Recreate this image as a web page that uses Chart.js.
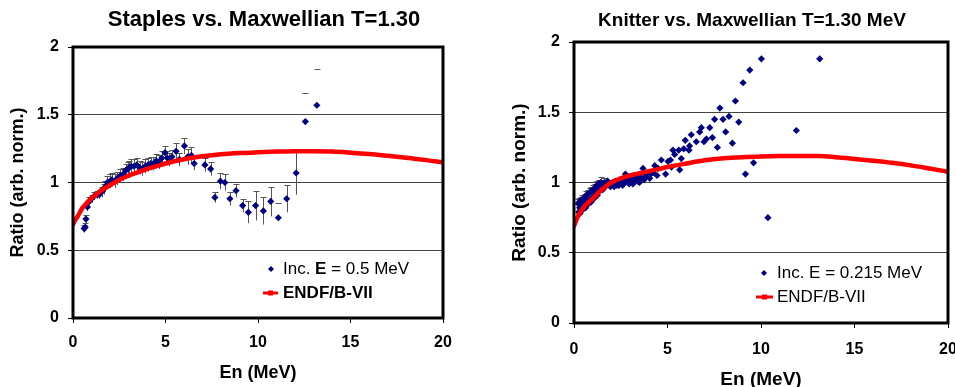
<!DOCTYPE html>
<html lang="en">
<head>
<meta charset="UTF-8">
<title>Staples / Knitter vs. Maxwellian T=1.30</title>
<script src="https://cdn.jsdelivr.net/npm/chart.js"></script>
<style>
  html, body {
    margin: 0;
    padding: 0;
    width: 955px;
    height: 387px;
    overflow: hidden;
    background: #fff;
  }
  canvas { position: absolute; top: 0; }
  #staplesChart { left: 0; }
  #knitterChart { left: 480px; }
</style>
</head>
<body>
<canvas id="staplesChart" width="480" height="387"></canvas>
<canvas id="knitterChart" width="500" height="395"></canvas>

<script>
const xTicks = [0, 5, 10, 15, 20];
const yTicks = [0, 0.5, 1, 1.5, 2];

// Staples, Inc. E = 0.5 MeV (ratio to Maxwellian, with error)
const staplesX = [
  0.60, 0.66, 0.70, 0.78, 0.88, 1.00, 1.15, 1.30, 1.42, 1.55,
  1.65, 1.75, 1.85, 2.00, 2.10, 2.25, 2.40, 2.55, 2.70, 2.85,
  2.95, 3.05, 3.15, 3.30, 3.45, 3.60, 3.75, 3.90, 4.05, 4.20,
  4.35, 4.50, 4.65, 4.80, 4.97, 5.10, 5.20, 5.35, 5.57, 5.75,
  6.02, 6.20, 6.40, 6.55, 7.13, 7.44, 7.67, 7.97, 8.21, 8.48,
  8.81, 9.17, 9.48, 9.87, 10.29, 10.69, 11.10, 11.55, 12.06, 12.56, 13.18
];
const staplesY = [
  0.66, 0.67, 0.73, 0.82, 0.86, 0.88, 0.90, 0.91, 0.91, 0.93,
  0.95, 0.97, 1.00, 1.01, 1.02, 1.01, 1.03, 1.05, 1.06, 1.09,
  1.10, 1.11, 1.12, 1.12, 1.13, 1.11, 1.10, 1.12, 1.13, 1.14,
  1.14, 1.16, 1.15, 1.18, 1.22, 1.18, 1.17, 1.19, 1.23, 1.17,
  1.27, 1.19, 1.20, 1.14, 1.13, 1.10, 0.89, 1.01, 1.00, 0.88,
  0.94, 0.83, 0.78, 0.83, 0.79, 0.86, 0.74, 0.88, 1.07, 1.45, 1.57
];
const staplesErr = [
  0.03, 0.03, 0.03, 0.03, 0.03, 0.03, 0.03, 0.03, 0.03, 0.04,
  0.04, 0.04, 0.05, 0.05, 0.05, 0.05, 0.05, 0.05, 0.05, 0.05,
  0.05, 0.05, 0.05, 0.05, 0.05, 0.05, 0.05, 0.05, 0.05, 0.05,
  0.05, 0.05, 0.05, 0.05, 0.05, 0.05, 0.05, 0.05, 0.06, 0.05,
  0.06, 0.06, 0.06, 0.05, 0.05, 0.05, 0.04, 0.06, 0.06, 0.05,
  0.05, 0.05, 0.08, 0.11, 0.10, 0.11, 0.11, 0.10, 0.16, 0.21, 0.27
];
// the last few bars show only their top cap in the original
const staplesCapOnly = [56, 59, 60];

// Knitter, Inc. E = 0.215 MeV
const knitterX = [
  0.22, 0.25, 0.28, 0.30, 0.35, 0.36, 0.42, 0.42, 0.48, 0.50,
  0.55, 0.58, 0.62, 0.66, 0.70, 0.75, 0.78, 0.84, 0.86, 0.93,
  0.95, 1.02, 1.05, 1.12, 1.15, 1.22, 1.25, 1.32, 1.35, 1.42,
  1.45, 1.52, 1.55, 1.62, 1.65, 1.75, 1.80, 1.85, 1.90, 2.00,
  2.05, 2.15, 2.20, 2.30, 2.35, 2.45, 2.55, 2.60, 2.70, 2.75,
  2.85, 2.95, 3.00, 3.10, 3.20, 3.25, 3.35, 3.45, 3.50, 3.55,
  3.60, 3.69, 3.87, 4.05, 4.23, 4.32, 4.44, 4.50, 4.67, 4.90,
  5.03, 5.16, 5.21, 5.29, 5.38, 5.60, 5.65, 5.74, 5.87, 5.95,
  6.15, 6.18, 6.27, 6.54, 6.72, 6.81, 6.95, 7.08, 7.26, 7.40,
  7.52, 7.67, 7.80, 7.97, 8.11, 8.29, 8.47, 8.63, 8.81, 9.04,
  9.17, 9.40, 9.60, 10.02, 10.37, 11.89, 13.14,
  0.32, 0.46, 0.68, 0.90, 1.10, 1.30, 2.10, 2.50, 2.90, 3.30, 3.80, 4.10,
  2.25, 2.65, 3.15, 3.40, 3.75, 1.95, 2.40, 2.80
];
const knitterY = [
  0.85, 0.79, 0.86, 0.82, 0.87, 0.84, 0.88, 0.80, 0.83, 0.88,
  0.85, 0.89, 0.82, 0.91, 0.86, 0.92, 0.85, 0.93, 0.88, 0.94,
  0.87, 0.95, 0.90, 0.96, 0.92, 0.98, 0.91, 0.99, 0.94, 1.00,
  0.96, 0.99, 0.95, 1.00, 0.97, 0.98, 1.01, 0.99, 0.99, 0.98,
  1.00, 0.97, 1.01, 0.98, 1.00, 0.99, 1.02, 0.98, 1.00, 1.06,
  1.01, 0.99, 1.03, 1.02, 1.05, 1.01, 1.04, 1.03, 1.00, 1.06,
  1.03, 1.10, 1.06, 1.03, 1.07, 1.12, 1.05, 1.10, 1.16, 1.06,
  1.15, 1.16, 1.11, 1.23, 1.20, 1.23, 1.09, 1.17, 1.24, 1.30,
  1.23, 1.26, 1.34, 1.29, 1.36, 1.39, 1.29, 1.31, 1.39, 1.32,
  1.45, 1.25, 1.53, 1.45, 1.36, 1.47, 1.28, 1.58, 1.43, 1.71,
  1.06, 1.80, 1.14, 1.88, 0.75, 1.37, 1.88,
  0.78, 0.81, 0.84, 0.86, 0.89, 0.93, 0.99, 1.00, 1.02, 1.02, 1.04, 1.06,
  0.99, 1.01, 0.99, 1.01, 1.02, 0.97, 0.98, 1.03
];
// only the low-energy points carry visible error bars
const knitterErr = [
  0.03, 0, 0.03, 0, 0.03, 0, 0.03, 0, 0, 0.03,
  0, 0.03, 0, 0.03, 0, 0.03, 0, 0.03, 0, 0.03,
  0, 0.03, 0, 0.03, 0, 0.03, 0, 0.03, 0, 0.04,
  0, 0.03, 0, 0.03
];

// ENDF/B-VII curves
const endfX = [0, 0.1, 0.25, 0.5, 0.75, 1, 1.25, 1.5, 2, 2.5, 3, 3.5, 4, 4.5, 5,
               6, 7, 8, 9, 10, 11, 12, 13, 14, 15, 16, 17, 18, 19, 20];
const endfStaplesY = [0.69, 0.72, 0.75, 0.81, 0.85, 0.885, 0.91, 0.94, 0.98, 1.02, 1.05, 1.075, 1.10, 1.12, 1.14,
                      1.172, 1.193, 1.208, 1.217, 1.223, 1.228, 1.231, 1.231, 1.228, 1.22, 1.21, 1.197, 1.183, 1.167, 1.148];
const endfKnitterY = [0.69, 0.725, 0.77, 0.82, 0.855, 0.885, 0.92, 0.95, 1.0, 1.03, 1.05, 1.065, 1.08, 1.095, 1.11,
                      1.135, 1.158, 1.172, 1.18, 1.185, 1.188, 1.189, 1.188, 1.18, 1.168, 1.155, 1.14, 1.122, 1.10, 1.077];

const FONT = '"Liberation Sans", Arial, sans-serif';
const pairs = (xs, ys) => xs.map((x, i) => ({ x, y: ys[i] }));

// vertical error bars with a cap on top, drawn under the markers
const errorBars = {
  id: 'errorBars',
  beforeDatasetsDraw(chart) {
    const { ctx, chartArea: a, scales: { x, y } } = chart;
    ctx.save();
    ctx.beginPath();
    ctx.rect(a.left, a.top, a.right - a.left, a.bottom - a.top);
    ctx.clip();
    ctx.strokeStyle = '#555';
    ctx.lineWidth = 1;
    chart.data.datasets.forEach(ds => {
      if (!ds.errors) return;
      const capOnly = ds.capOnly || [];
      ds.data.forEach((p, i) => {
        const e = ds.errors[i];
        if (!e) return;
        const px = Math.round(x.getPixelForValue(p.x)) + 0.5;
        const top = Math.round(y.getPixelForValue(p.y + e)) + 0.5;
        const bot = y.getPixelForValue(p.y - e);
        ctx.beginPath();
        if (!capOnly.includes(i)) {
          ctx.moveTo(px, top);
          ctx.lineTo(px, bot);
        }
        ctx.moveTo(px - 3, top);
        ctx.lineTo(px + 3, top);
        ctx.stroke();
      });
    });
    ctx.restore();
  }
};

// heavy black box round the plot area
const frame = {
  id: 'frame',
  afterDatasetsDraw(chart) {
    const { ctx, chartArea: a } = chart;
    ctx.save();
    ctx.lineWidth = 3;
    ctx.strokeStyle = '#000';
    ctx.strokeRect(a.left, a.top, a.right - a.left, a.bottom - a.top);
    ctx.restore();
  }
};

// chart heading and the legend that sits inside the plot
const captions = {
  id: 'captions',
  afterDraw(chart, args, o) {
    const ctx = chart.ctx;
    ctx.save();
    ctx.fillStyle = '#000';
    ctx.textBaseline = 'middle';
    ctx.textAlign = 'center';
    ctx.font = `bold ${o.titleSize}px ${FONT}`;
    ctx.fillText(o.title, o.titleX, o.titleY);

    ctx.textAlign = 'left';
    o.rows.forEach(row => {
      const ds = chart.data.datasets[row.dataset];
      if (ds.type === 'line') {
        ctx.strokeStyle = ds.borderColor;
        ctx.lineWidth = 3;
        ctx.beginPath();
        ctx.moveTo(o.lineFrom, row.y);
        ctx.lineTo(o.lineTo, row.y);
        ctx.stroke();
        ctx.fillStyle = ds.borderColor;
        const mid = (o.lineFrom + o.lineTo) / 2;
        ctx.fillRect(mid - 2.5, row.y - 2.5, 5, 5);
      } else {
        ctx.fillStyle = ds.pointBackgroundColor;
        ctx.beginPath();
        ctx.moveTo(o.markerX, row.y - 3);
        ctx.lineTo(o.markerX + 3, row.y);
        ctx.lineTo(o.markerX, row.y + 3);
        ctx.lineTo(o.markerX - 3, row.y);
        ctx.closePath();
        ctx.fill();
      }
      ctx.fillStyle = '#000';
      let tx = o.textX;
      row.parts.forEach(([text, bold]) => {
        ctx.font = `${bold ? 'bold ' : ''}${o.fontSize}px ${FONT}`;
        ctx.fillText(text, tx, row.y);
        tx += ctx.measureText(text).width;
      });
    });
    ctx.restore();
  }
};

function buildChart(id, c) {
  return new Chart(document.getElementById(id), {
    type: 'scatter',
    data: {
      datasets: [
        {
          type: 'scatter',
          label: c.dataLabel,
          data: c.points,
          errors: c.errors,
          capOnly: c.capOnly,
          pointStyle: 'rectRot',
          pointRadius: 3.6,
          pointBackgroundColor: '#000080',
          pointBorderWidth: 0,
          order: 2
        },
        {
          type: 'line',
          label: 'ENDF/B-VII',
          data: c.curve,
          borderColor: '#ff0000',
          borderWidth: 4.5,
          pointStyle: 'rect',
          pointRadius: 2.5,
          pointBackgroundColor: '#ff0000',
          pointBorderWidth: 0,
          cubicInterpolationMode: 'monotone',
          order: 1
        }
      ]
    },
    options: {
      responsive: false,
      animation: false,
      devicePixelRatio: 1,
      events: [],
      layout: { padding: c.padding },
      scales: {
        x: {
          type: 'linear',
          min: 0,
          max: 20,
          afterBuildTicks: s => { s.ticks = xTicks.map(v => ({ value: v })); },
          afterFit: s => { s.height = c.xHeight; },
          grid: { drawOnChartArea: false, tickLength: 5, tickColor: '#000' },
          border: { display: false },
          ticks: {
            color: '#000',
            padding: c.xTickPad,
            maxRotation: 0,
            callback: v => String(v),
            font: { family: FONT, size: 16, weight: 'bold' }
          },
          title: {
            display: true,
            text: 'En (MeV)',
            color: '#000',
            padding: { top: 0, bottom: c.xTitlePad },
            font: { family: FONT, size: c.axisTitleSize, weight: 'bold' }
          }
        },
        y: {
          type: 'linear',
          min: 0,
          max: 2,
          afterBuildTicks: s => { s.ticks = yTicks.map(v => ({ value: v })); },
          afterFit: s => { s.width = c.yWidth; },
          grid: { color: '#444', lineWidth: 1, tickLength: 5, tickColor: '#000' },
          border: { display: false },
          ticks: {
            color: '#000',
            padding: 9,
            callback: v => String(v),
            font: { family: FONT, size: 16, weight: 'bold' }
          },
          title: {
            display: true,
            text: 'Ratio (arb. norm.)',
            color: '#000',
            padding: { top: c.yTitlePad, bottom: 0 },
            font: { family: FONT, size: c.axisTitleSize, weight: 'bold' }
          }
        }
      },
      plugins: {
        legend: { display: false },
        tooltip: { enabled: false },
        captions: c.captions
      }
    },
    plugins: [errorBars, frame, captions]
  });
}

buildChart('staplesChart', {
  dataLabel: 'Inc. E = 0.5 MeV',
  points: pairs(staplesX, staplesY),
  errors: staplesErr,
  capOnly: staplesCapOnly,
  curve: pairs(endfX, endfStaplesY),
  padding: { left: 0, top: 47, right: 37, bottom: 0 },
  xHeight: 69,
  yWidth: 73,
  xTickPad: 10,
  xTitlePad: 3,
  yTitlePad: 7,
  axisTitleSize: 18,
  captions: {
    title: 'Staples vs. Maxwellian T=1.30',
    titleX: 264, titleY: 20, titleSize: 22,
    markerX: 271, textX: 283, lineFrom: 263, lineTo: 278, fontSize: 17,
    rows: [
      { dataset: 0, y: 269, parts: [['Inc. ', false], ['E', true], [' = 0.5 MeV', false]] },
      { dataset: 1, y: 293, parts: [['ENDF/B-VII', true]] }
    ]
  }
});

buildChart('knitterChart', {
  dataLabel: 'Inc. E = 0.215 MeV',
  points: pairs(knitterX, knitterY),
  errors: knitterErr,
  curve: pairs(endfX, endfKnitterY),
  padding: { left: 0, top: 42, right: 32, bottom: 0 },
  xHeight: 72,
  yWidth: 94,
  xTickPad: 12,
  xTitlePad: 4,
  yTitlePad: 28,
  axisTitleSize: 19,
  captions: {
    title: 'Knitter vs. Maxwellian T=1.30 MeV',
    titleX: 272, titleY: 21, titleSize: 19,
    markerX: 284, textX: 297, lineFrom: 276, lineTo: 293, fontSize: 17,
    rows: [
      { dataset: 0, y: 273, parts: [['Inc. E = 0.215 MeV', false]] },
      { dataset: 1, y: 297, parts: [['ENDF/B-VII', false]] }
    ]
  }
});
</script>
</body>
</html>
